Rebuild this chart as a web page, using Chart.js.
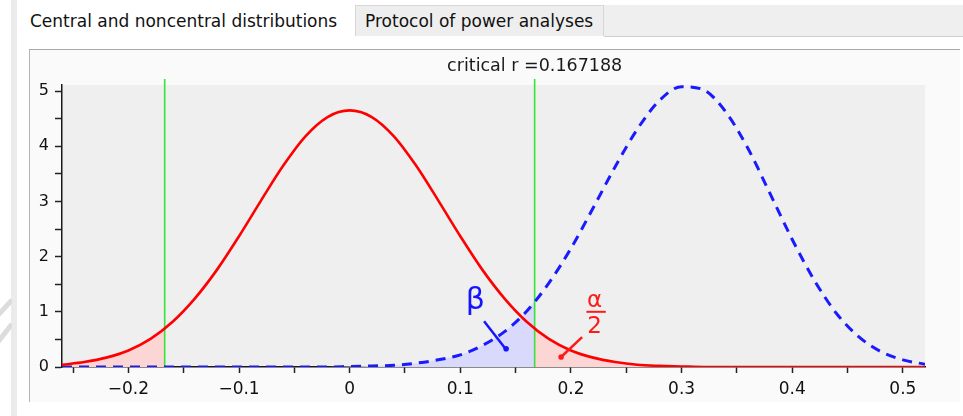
<!DOCTYPE html>
<html>
<head>
<meta charset="utf-8">
<script src="https://cdn.jsdelivr.net/npm/chart.js@4/dist/chart.umd.min.js"></script>
<style>
  html, body { margin: 0; padding: 0; background: #fff; }
  body { width: 963px; height: 416px; position: relative; overflow: hidden; font-family: "DejaVu Sans", sans-serif; color: #111; }
  .strip { position: absolute; left: 11px; top: 0; width: 6px; height: 416px; background: #ebebeb; }
  .tab1 { position: absolute; left: 30px; top: 5px; height: 32px; line-height: 32px; font-size: 17px; }
  .tab2 { position: absolute; left: 355px; top: 5px; height: 31px; line-height: 31px; font-size: 17px;
          background: #eeeeee; border: 1px solid #d6d6d6; border-bottom: none; padding-left: 9px; box-sizing: border-box; width: 249px; }
  .tabrest { position: absolute; left: 604px; top: 5px; width: 359px; height: 31px; background: #efefef; border-bottom: 1px solid #cfcfcf; }
  .rule { position: absolute; left: 29px; top: 49px; width: 931px; height: 1px; background: #a9a9a9; }
  .panel { position: absolute; left: 29px; top: 50px; width: 931px; height: 352px; background: #fafafa; border-left: 1px solid #b4b4b4; box-sizing: border-box; }
  #chart { position: absolute; left: 29px; top: 50px; }
  .marks { position: absolute; left: 0; top: 280px; }
</style>
</head>
<body>
<div class="strip"></div>
<svg class="marks" width="12" height="80">
  <line x1="-2" y1="35" x2="12" y2="20" stroke="#dcdcdc" stroke-width="5"/>
  <line x1="-2" y1="62" x2="12" y2="44" stroke="#dcdcdc" stroke-width="5"/>
</svg>
<div class="tab1">Central and noncentral distributions</div>
<div class="tab2">Protocol of power analyses</div>
<div class="tabrest"></div>
<div class="rule"></div>
<div class="panel"></div>
<canvas id="chart" width="931" height="352"></canvas>

<script>
// sample positions along r
const xs = [-0.26, -0.24, -0.22, -0.20, -0.18, -0.16, -0.14, -0.12, -0.10, -0.08, -0.06, -0.04, -0.02,
            0.00, 0.02, 0.04, 0.06, 0.08, 0.10, 0.12, 0.14, 0.16, 0.18, 0.20, 0.22, 0.24, 0.26,
            0.28, 0.30, 0.32, 0.34, 0.36, 0.38, 0.40, 0.42, 0.44, 0.46, 0.48, 0.50, 0.52];

// H0 (red) and H1 (blue dashed) densities
const centralDensity = [0.04, 0.09, 0.17, 0.30, 0.51, 0.82, 1.24, 1.76, 2.37, 3.02, 3.65, 4.18, 4.53,
                        4.65, 4.53, 4.18, 3.65, 3.02, 2.37, 1.76, 1.24, 0.82, 0.51, 0.30, 0.17, 0.09, 0.04,
                        0.02, 0.01, 0.00, 0.00, 0.00, 0.00, 0.00, 0.00, 0.00, 0.00, 0.00, 0.00, 0.00];
const noncentralDensity = [0.00, 0.00, 0.00, 0.00, 0.00, 0.00, 0.00, 0.00, 0.00, 0.00, 0.00, 0.00, 0.00,
                           0.01, 0.02, 0.03, 0.07, 0.13, 0.22, 0.39, 0.64, 1.01, 1.52, 2.15, 2.88, 3.63, 4.31,
                           4.83, 5.08, 5.02, 4.62, 3.96, 3.14, 2.31, 1.57, 0.97, 0.55, 0.28, 0.13, 0.05];

const critR = 0.167188;
const centralAtCrit = 0.70;
const noncentralAtCrit = 1.20;

const xTickValues = [-0.25, -0.2, -0.15, -0.1, -0.05, 0, 0.05, 0.1, 0.15, 0.2, 0.25, 0.3, 0.35, 0.4, 0.45, 0.5];
const xTickLabels = ['', '\u22120.2', '', '\u22120.1', '', '0', '', '0.1', '', '0.2', '', '0.3', '', '0.4', '', '0.5'];
const yTickValues = [0, 0.5, 1, 1.5, 2, 2.5, 3, 3.5, 4, 4.5, 5];
const yTickLabels = ['0', '', '1', '', '2', '', '3', '', '4', '', '5'];

const FONT = 'DejaVu Sans';

function toPoints(ys) {
    return xs.map((x, i) => ({ x: x, y: ys[i] }));
}

const leftTail = toPoints(centralDensity).filter(p => p.x < -critR);
leftTail.push({ x: -critR, y: centralAtCrit });

const rightTail = [{ x: critR, y: centralAtCrit }].concat(
    toPoints(centralDensity).filter(p => p.x > critR));

const betaArea = toPoints(noncentralDensity).filter(p => p.x < critR);
betaArea.push({ x: critR, y: noncentralAtCrit });

const greenTop = 5.22;

const plotBackground = {
    id: 'plotBackground',
    beforeDraw(chart) {
        const a = chart.chartArea;
        const c = chart.ctx;
        c.save();
        c.fillStyle = '#efefef';
        c.fillRect(a.left, a.top, a.right - a.left, a.bottom - a.top);
        c.restore();
    }
};

// title + beta / alpha-half labels
const annotations = {
    id: 'annotations',
    afterDraw(chart) {
        const c = chart.ctx;
        const sx = chart.scales.x, sy = chart.scales.y;
        const px = v => sx.getPixelForValue(v);
        const py = v => sy.getPixelForValue(v);
        c.save();

        c.fillStyle = '#1a1a1a';
        c.font = '17.5px "' + FONT + '"';
        c.textAlign = 'center';
        c.textBaseline = 'middle';
        c.fillText('critical r =0.167188', px(critR), 16);

        // beta
        c.fillStyle = '#1515ff';
        c.strokeStyle = '#1515ff';
        c.lineWidth = 2.5;
        c.font = '30px "' + FONT + '"';
        c.textBaseline = 'alphabetic';
        c.fillText('\u03b2', px(0.1135), py(1.06));
        c.beginPath();
        c.moveTo(px(0.1215), py(0.83));
        c.lineTo(px(0.1405), py(0.34));
        c.stroke();
        c.beginPath();
        c.arc(px(0.1414), py(0.33), 2.8, 0, Math.PI * 2);
        c.fill();

        // alpha / 2
        c.fillStyle = '#ff1a1a';
        c.strokeStyle = '#ff1a1a';
        c.font = '23px "' + FONT + '"';
        c.fillText('\u03b1', px(0.2214), py(1.087));
        c.fillText('2', px(0.2214), py(0.616));
        c.lineWidth = 2;
        c.beginPath();
        c.moveTo(px(0.2140), py(1.0));
        c.lineTo(px(0.2315), py(1.0));
        c.stroke();
        c.lineWidth = 2.5;
        c.beginPath();
        c.moveTo(px(0.2101), py(0.543));
        c.lineTo(px(0.1911), py(0.181));
        c.stroke();
        c.beginPath();
        c.arc(px(0.1911), py(0.181), 2.8, 0, Math.PI * 2);
        c.fill();

        c.restore();
    }
};

const ctx = document.getElementById('chart').getContext('2d');

new Chart(ctx, {
    type: 'line',
    data: {
        datasets: [
            {
                data: toPoints(centralDensity),
                borderColor: '#ff0000',
                borderWidth: 2.6,
                fill: false,
                order: 0
            },
            {
                data: toPoints(noncentralDensity),
                borderColor: '#1a1aff',
                borderWidth: 3,
                borderDash: [10, 7],
                fill: false,
                order: 0
            },
            {
                data: [{ x: -critR, y: 0 }, { x: -critR, y: greenTop }],
                borderColor: '#33e633',
                borderWidth: 1.6,
                clip: false,
                order: 1
            },
            {
                data: [{ x: critR, y: 0 }, { x: critR, y: greenTop }],
                borderColor: '#33e633',
                borderWidth: 1.6,
                clip: false,
                order: 1
            },
            {
                data: leftTail,
                borderWidth: 0,
                backgroundColor: '#fcd5d5',
                fill: 'origin',
                order: 2
            },
            {
                data: rightTail,
                borderWidth: 0,
                backgroundColor: '#fcd5d5',
                fill: 'origin',
                order: 2
            },
            {
                data: betaArea,
                borderWidth: 0,
                backgroundColor: '#d9d9fb',
                fill: 'origin',
                order: 2
            }
        ]
    },
    options: {
        responsive: false,
        animation: false,
        devicePixelRatio: 1,
        layout: { padding: { top: 35, right: 35, left: 0, bottom: 0 } },
        elements: {
            point: { radius: 0 },
            line: { cubicInterpolationMode: 'monotone' }
        },
        plugins: {
            legend: { display: false },
            tooltip: { enabled: false },
            title: { display: false }
        },
        scales: {
            x: {
                type: 'linear',
                min: -0.26,
                max: 0.52,
                afterBuildTicks: axis => { axis.ticks = xTickValues.map(v => ({ value: v })); },
                afterFit: axis => { axis.height = 35; },
                ticks: {
                    autoSkip: false,
                    maxRotation: 0,
                    padding: 6,
                    color: '#111',
                    font: { family: FONT, size: 17 },
                    callback: (v, i) => xTickLabels[i]
                },
                grid: { drawOnChartArea: false, drawTicks: true, tickLength: 6, tickColor: '#222', tickWidth: 1.5 },
                border: { color: '#1a1a1a', width: 1.5 }
            },
            y: {
                min: 0,
                max: 5.11,
                afterBuildTicks: axis => { axis.ticks = yTickValues.map(v => ({ value: v })); },
                afterFit: axis => { axis.width = 33; },
                ticks: {
                    autoSkip: false,
                    padding: 6,
                    color: '#111',
                    font: { family: FONT, size: 16 },
                    callback: (v, i) => yTickLabels[i]
                },
                grid: { drawOnChartArea: false, drawTicks: true, tickLength: 7, tickColor: '#222', tickWidth: 1.5 },
                border: { color: '#1a1a1a', width: 1.5 }
            }
        }
    },
    plugins: [plotBackground, annotations]
});
</script>
</body>
</html>
